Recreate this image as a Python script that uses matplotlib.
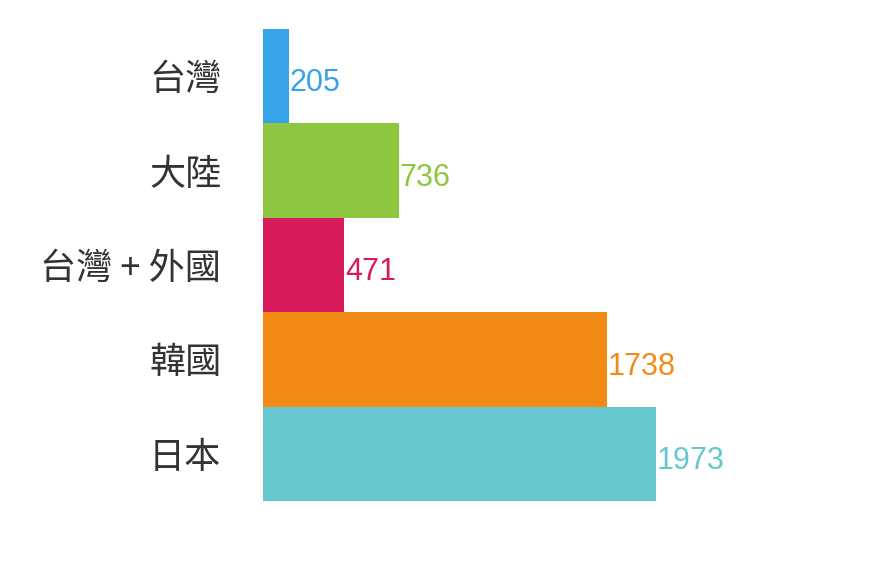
import matplotlib
matplotlib.use("Agg")
import matplotlib.pyplot as plt

# data
categories = ["台灣", "大陸", "台灣 + 外國", "韓國", "日本"]
values = [205, 736, 471, 1738, 1973]
colors = ["#36A3EB", "#8DC63F", "#D81B5C", "#F28A16", "#66C7CF"]

plt.rcParams['font.family'] = ['Noto Sans CJK TC', 'DejaVu Sans']

fig = plt.figure(figsize=(8.86, 5.65), dpi=100)
ax = fig.add_axes([263 / 886, (565 - 501) / 565, 597 / 886, 472 / 565])

ypos = list(range(len(categories)))
ax.barh(ypos, values, height=1.0, color=colors)
ax.set_xlim(80, 2956)
ax.set_ylim(len(categories) - 0.5, -0.5)

for y, v, c in zip(ypos, values, colors):
    ax.annotate(str(v), (v, y), xytext=(0.5, -11), textcoords="offset points",
                ha="left", va="baseline", color=c, fontsize=22,
                family="Liberation Sans", annotation_clip=False)

ax.set_yticks(ypos)
ax.set_yticklabels(categories, fontsize=26, color="#333333", fontweight="light")
ax.tick_params(axis="y", length=0, pad=30)
ax.set_xticks([])
for s in ax.spines.values():
    s.set_visible(False)

fig.savefig("out.png", dpi=100)
